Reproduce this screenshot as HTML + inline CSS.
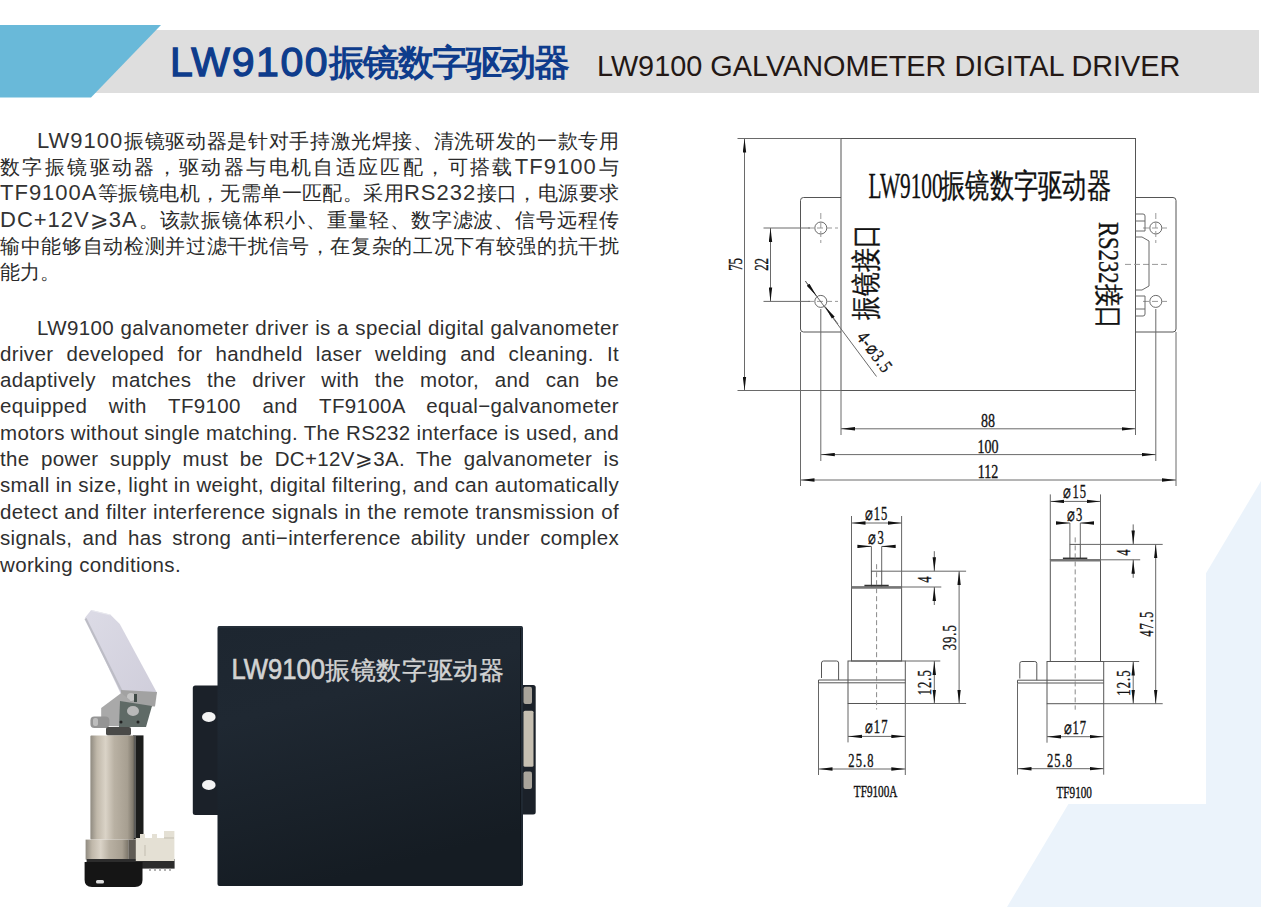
<!DOCTYPE html>
<html><head><meta charset="utf-8">
<style>
*{margin:0;padding:0;box-sizing:border-box}
html,body{width:1261px;height:907px;overflow:hidden;background:#fff}
body{position:relative;font-family:"Liberation Sans",sans-serif;color:#231815}
.abs{position:absolute}
#bg{position:absolute;left:0;top:0}
.ln{position:absolute;left:0;width:619px;white-space:nowrap;text-align:justify;text-align-last:justify;font-size:20px;line-height:26px;height:26px}
.zh .ln{font-size:20px;color:#2a2a2a}
.en .ln{color:#2f2f2f}
.en .ln{letter-spacing:0.35px;font-size:20.5px}
.lt{letter-spacing:1px;font-size:22px;color:#333}
.nj{text-align-last:left}
.t1{position:absolute;left:170px;top:38px;font-size:41px;color:#0e3c8c;white-space:nowrap;line-height:48px}
.t1l{-webkit-text-stroke:1.3px #0e3c8c;letter-spacing:1.6px}
.t1c{font-size:36px;letter-spacing:-1.8px;position:relative;top:-1px}
.t2{position:absolute;left:597px;top:46px;font-size:28.85px;color:#231815;white-space:nowrap;line-height:40px}
</style></head><body>
<svg id="bg" width="1261" height="907" viewBox="0 0 1261 907">
  <polygon points="1261,481 1261,907 1007,907" fill="#ebf3fb"/>
  <rect x="700" y="110" width="506" height="694" fill="#fff"/>
  <rect x="60" y="30" width="1199" height="63" fill="#dedede"/>
  <polygon points="0,25 161,25 91,97.5 0,97.5" fill="#69b9d9"/>
</svg>
<div class="t1"><span class="t1l">LW9100</span><b class="t1c">振镜数字驱动器</b></div>
<div class="t2">LW9100 GALVANOMETER DIGITAL DRIVER</div>

<div class="zh">
<div class="ln" style="top:128px;padding-left:37px"><span class="lt">LW9100</span>振镜驱动器是针对手持激光焊接、清洗研发的一款专用</div>
<div class="ln" style="top:154px">数字振镜驱动器，驱动器与电机自适应匹配，可搭载<span class="lt">TF9100</span>与</div>
<div class="ln" style="top:180px"><span class="lt">TF9100A</span>等振镜电机，无需单一匹配。采用<span class="lt">RS232</span>接口，电源要求</div>
<div class="ln" style="top:207px"><span class="lt">DC+12V⩾3A</span>。该款振镜体积小、重量轻、数字滤波、信号远程传</div>
<div class="ln" style="top:233px">输中能够自动检测并过滤干扰信号，在复杂的工况下有较强的抗干扰</div>
<div class="ln nj" style="top:259px">能力。</div>
</div>

<div class="en">
<div class="ln" style="top:315px;padding-left:37px">LW9100 galvanometer driver is a special digital galvanometer</div>
<div class="ln" style="top:341px">driver developed for handheld laser welding and cleaning. It</div>
<div class="ln" style="top:367px">adaptively matches the driver with the motor, and can be</div>
<div class="ln" style="top:393px">equipped with TF9100 and TF9100A equal−galvanometer</div>
<div class="ln" style="top:420px">motors without single matching. The RS232 interface is used, and</div>
<div class="ln" style="top:446px">the power supply must be DC+12V⩾3A. The galvanometer is</div>
<div class="ln" style="top:472px">small in size, light in weight, digital filtering, and can automatically</div>
<div class="ln" style="top:499px">detect and filter interference signals in the remote transmission of</div>
<div class="ln" style="top:525px">signals, and has strong anti−interference ability under complex</div>
<div class="ln nj" style="top:552px">working conditions.</div>
</div>

<!--PARTS-->
<svg class="abs" style="left:0;top:0" width="1261" height="907" viewBox="0 0 1261 907">
<defs>
  <marker id="ar" viewBox="0 0 14 4" refX="14" refY="2" markerWidth="14" markerHeight="4" markerUnits="userSpaceOnUse" orient="auto-start-reverse">
    <path d="M14,2 L0,0.3 L0,3.7 Z" fill="#111"/>
  </marker>
</defs>
<g fill="none" stroke="#6a6a6a" stroke-width="1">
  <!-- main box -->
  <rect x="841" y="138.5" width="294.5" height="252" stroke="#555"/>
  <path d="M841,197.5 H803.5 Q800.5,197.5 800.5,200.5 V329 Q800.5,332 803.5,332 H841" stroke="#555"/>
  <path d="M1135.5,197.5 H1173 Q1176,197.5 1176,200.5 V329 Q1176,332 1173,332 H1135.5" stroke="#555"/>
  <circle cx="820.8" cy="228" r="6"/>
  <circle cx="820.8" cy="301.4" r="6"/>
  <circle cx="1155.8" cy="228" r="6"/>
  <circle cx="1155.8" cy="301.4" r="6"/>
  <!-- centre lines -->
  <g stroke="#999" stroke-dasharray="6,3">
    <path d="M808,228 H838 M820.8,213 V243 M808,301.4 H838 M1143,228 H1170 M1155.8,213 V243 M1143,301.4 H1170 M1125,264.4 H1168"/>
  </g>
  <!-- extension lines -->
  <path d="M737.5,138.5 H841 M737.5,390.5 H841 M763.5,228 H810 M763.5,301.4 H810"/>
  <path d="M841,390.5 V435 M1135.5,390.5 V435 M820.8,309 V461 M1155.8,309 V461 M800.5,332 V486 M1176,332 V486"/>
  <!-- dims -->
  <path d="M744.5,138.5 V390.5" marker-start="url(#ar)" marker-end="url(#ar)"/>
  <path d="M770.5,228 V301.4" marker-start="url(#ar)" marker-end="url(#ar)"/>
  <path d="M841,428.8 H1135.5" marker-start="url(#ar)" marker-end="url(#ar)"/>
  <path d="M820.8,454.6 H1155.8" marker-start="url(#ar)" marker-end="url(#ar)"/>
  <path d="M800.5,480 H1176" marker-start="url(#ar)" marker-end="url(#ar)"/>
  <path d="M805.3,281 L876.5,376.5"/>
  <path d="M805.3,281 L816.5,296" marker-end="url(#ar)"/>
  <path d="M838,324 L825,306.5" marker-end="url(#ar)"/>
  <!-- connector -->
  <path d="M1135.5,214 H1143 Q1145,214 1145,216 V231 H1135.5 M1135.5,296 H1145 V314 Q1145,316 1143,316 H1135.5 M1135.5,237 H1142 L1149,241 V286 L1142,290 H1135.5 M1135.5,221 H1145 M1135.5,309 H1145"/>
</g>
<g font-family="Liberation Serif, serif" fill="#111" stroke="#111" stroke-width="0.35">
  <text transform="translate(868.5,198) scale(0.6,1)" font-size="35.5">LW9100</text><text transform="translate(941,197) scale(0.735,1)" font-size="32.5">振镜数字驱动器</text>
  <text transform="translate(876,320) rotate(-90) scale(0.8,1)" font-size="29.5">振镜接口</text>
  <text transform="translate(1099,222) rotate(90) scale(0.78,1)" font-size="29">RS232接口</text>
  <g font-size="19" text-anchor="middle">
    <text transform="translate(988,427) scale(0.74,1)">88</text>
    <text transform="translate(988,452.5) scale(0.74,1)">100</text>
    <text transform="translate(988,478) scale(0.74,1)">112</text>
    <text transform="translate(742,264.4) rotate(-90) scale(0.68,1)">75</text>
    <text transform="translate(768,264.4) rotate(-90) scale(0.68,1)">22</text>
    <text transform="translate(870,356) rotate(53) scale(0.78,1)" font-size="19" letter-spacing="1.5">4-⌀3.5</text>
  </g>
</g>
</svg>
<svg class="abs" style="left:0;top:0" width="1261" height="907" viewBox="0 0 1261 907">
<g fill="none" stroke="#666" stroke-width="1">
<rect x="871.4" y="571.2" width="10.300000000000068" height="15.799999999999955" stroke="#555"/>
<rect x="851.5" y="587" width="50.10000000000002" height="74" stroke="#555"/>
<path d="M851.5,587.5 H901.6" stroke="#777" stroke-width="2.5"/>
<path d="M864.4,585.5 H888.7" stroke="#333" stroke-width="1.5"/>
<rect x="848" y="661" width="57.299999999999955" height="42.5" stroke="#555"/>
<path d="M821.5,678 V663 Q821.5,661 823.5,661 H836.6 Q838.6,661 838.6,663 V680" stroke="#555"/>
<path d="M818.5,680 H905.3 M818.5,682.8 H905.3 M818.5,680 V683" stroke="#555"/>
<path d="M876.6,564.2 V709.5" stroke="#888" stroke-dasharray="5,3"/>
<path d="M851.5,516 V587 M901.6,516 V587 M871.4,546.4 V571.2 M881.7,546.4 V571.2"/>
<path d="M881.7,571.2 H966.1 M901.6,587 H941.3 M905.3,661 H940.3 M905.3,703.5 H966.1"/>
<path d="M848,703.5 V742.4 M905.3,703.5 V775 M818.5,683 V775"/>
<path d="M851.5,523 H901.6" marker-start="url(#ar)" marker-end="url(#ar)"/>
<path d="M858.4,546.4 H871.4" marker-end="url(#ar)"/>
<path d="M894.7,546.4 H881.7" marker-end="url(#ar)"/>
<path d="M934.3,551.2 V571.2" marker-end="url(#ar)"/>
<path d="M934.3,605 V587" marker-end="url(#ar)"/>
<path d="M959.1,571.2 V703.5" marker-start="url(#ar)" marker-end="url(#ar)"/>
<path d="M934.3,661 V703.5" marker-start="url(#ar)" marker-end="url(#ar)"/>
<path d="M848,736.4 H905.3" marker-start="url(#ar)" marker-end="url(#ar)"/>
<path d="M818.5,769 H905.3" marker-start="url(#ar)" marker-end="url(#ar)"/>
</g>
<g font-family="Liberation Serif, serif" fill="#111" stroke="#111" stroke-width="0.35" font-size="18.5" text-anchor="middle" letter-spacing="1.5">
<text transform="translate(876.6,520) scale(0.68,1)">⌀15</text>
<text transform="translate(876.6,544.4) scale(0.68,1)">⌀3</text>
<text transform="translate(931.3,579.1) rotate(-90) scale(0.68,1)">4</text>
<text transform="translate(931.3,682.25) rotate(-90) scale(0.68,1)">12.5</text>
<text transform="translate(956.1,637.3) rotate(-90) scale(0.68,1)">39.5</text>
<text transform="translate(876.65,733.4) scale(0.68,1)">⌀17</text>
<text transform="translate(861.4,767) scale(0.68,1)">25.8</text>
<text transform="translate(875.6,797) scale(0.7,1)" font-size="16" font-weight="normal" stroke-width="0.4" letter-spacing="0">TF9100A</text>
</g>
<g fill="none" stroke="#666" stroke-width="1">
<rect x="1069.9" y="544.4" width="10.399999999999864" height="15.399999999999977" stroke="#555"/>
<rect x="1050.3" y="559.8" width="50.200000000000045" height="101.70000000000005" stroke="#555"/>
<path d="M1050.3,560.3 H1100.5" stroke="#777" stroke-width="2.5"/>
<path d="M1062.9,558.3 H1087.3" stroke="#333" stroke-width="1.5"/>
<rect x="1047" y="661.5" width="56.700000000000045" height="42.200000000000045" stroke="#555"/>
<path d="M1019.8,678.5 V663.5 Q1019.8,661.5 1021.8,661.5 H1034.8 Q1036.8,661.5 1036.8,663.5 V680.2" stroke="#555"/>
<path d="M1017.5,680.2 H1103.7 M1017.5,683.0 H1103.7 M1017.5,680.2 V683.2" stroke="#555"/>
<path d="M1075.2,537.4 V709.7" stroke="#888" stroke-dasharray="5,3"/>
<path d="M1050.3,494.4 V559.8 M1100.5,494.4 V559.8 M1069.9,523 V544.4 M1080.3,523 V544.4"/>
<path d="M1080.3,544.4 H1162.7 M1100.5,559.8 H1140.2 M1103.7,661.5 H1139.2 M1103.7,703.7 H1162.7"/>
<path d="M1047,703.7 V742.7 M1103.7,703.7 V774.7 M1017.5,683.2 V774.7"/>
<path d="M1050.3,501.4 H1100.5" marker-start="url(#ar)" marker-end="url(#ar)"/>
<path d="M1056.9,523 H1069.9" marker-end="url(#ar)"/>
<path d="M1093.3,523 H1080.3" marker-end="url(#ar)"/>
<path d="M1133.2,524.4 V544.4" marker-end="url(#ar)"/>
<path d="M1133.2,577.8 V559.8" marker-end="url(#ar)"/>
<path d="M1155.7,544.4 V703.7" marker-start="url(#ar)" marker-end="url(#ar)"/>
<path d="M1133.2,661.5 V703.7" marker-start="url(#ar)" marker-end="url(#ar)"/>
<path d="M1047,736.7 H1103.7" marker-start="url(#ar)" marker-end="url(#ar)"/>
<path d="M1017.5,768.7 H1103.7" marker-start="url(#ar)" marker-end="url(#ar)"/>
</g>
<g font-family="Liberation Serif, serif" fill="#111" stroke="#111" stroke-width="0.35" font-size="18.5" text-anchor="middle" letter-spacing="1.5">
<text transform="translate(1075.2,498.4) scale(0.68,1)">⌀15</text>
<text transform="translate(1075.2,521) scale(0.68,1)">⌀3</text>
<text transform="translate(1130.2,552.0999999999999) rotate(-90) scale(0.68,1)">4</text>
<text transform="translate(1130.2,682.6) rotate(-90) scale(0.68,1)">12.5</text>
<text transform="translate(1152.7,623.8) rotate(-90) scale(0.68,1)">47.5</text>
<text transform="translate(1075.35,733.7) scale(0.68,1)">⌀17</text>
<text transform="translate(1060.1,766.7) scale(0.68,1)">25.8</text>
<text transform="translate(1074.2,797.8) scale(0.7,1)" font-size="16" font-weight="normal" stroke-width="0.4" letter-spacing="0">TF9100</text>
</g>
</svg>
<svg class="abs" style="left:0;top:0" width="1261" height="907" viewBox="0 0 1261 907">
<defs>
  <linearGradient id="boxg" x1="0" y1="0" x2="0.3" y2="1">
    <stop offset="0" stop-color="#1d2630"/>
    <stop offset="0.35" stop-color="#1f2832"/>
    <stop offset="1" stop-color="#151c23"/>
  </linearGradient>
  <linearGradient id="cyl" x1="0" y1="0" x2="1" y2="0">
    <stop offset="0" stop-color="#8f8a80"/>
    <stop offset="0.15" stop-color="#c0b8aa"/>
    <stop offset="0.35" stop-color="#dad3c7"/>
    <stop offset="0.55" stop-color="#b9b1a3"/>
    <stop offset="0.85" stop-color="#a79f91"/>
    <stop offset="1" stop-color="#7a7468"/>
  </linearGradient>
  <linearGradient id="mir" x1="0" y1="0" x2="1" y2="1">
    <stop offset="0" stop-color="#dcdbe6"/>
    <stop offset="1" stop-color="#cfcdda"/>
  </linearGradient>
</defs>
<!-- driver box -->
<rect x="192.8" y="685.5" width="30" height="129.5" rx="2.5" fill="#1b2129"/>
<ellipse cx="208.8" cy="717" rx="6.8" ry="5" fill="#f4f4f4"/>
<ellipse cx="208.8" cy="785" rx="6.8" ry="5" fill="#f4f4f4"/>
<rect x="515" y="685" width="20.7" height="129.5" rx="2.5" fill="#1b2129"/>
<rect x="523.5" y="686.7" width="8.5" height="17.3" rx="2" fill="#a9a49b"/>
<rect x="523.5" y="710.7" width="10" height="56" rx="1.5" fill="#c6bfb1"/>
<rect x="523.5" y="771.4" width="8.5" height="17.6" rx="2" fill="#a9a49b"/>
<rect x="217.5" y="626" width="305.5" height="260" rx="2" fill="url(#boxg)"/>
<path d="M218.5,627 H522" stroke="#2c3640" stroke-width="1.2"/>
<path d="M520.5,628 V885" stroke="#10151b" stroke-width="1"/>
<path d="M522,628 V885" stroke="#2b3540" stroke-width="1"/>
<text transform="translate(231.5,678.7) scale(0.855,1)" font-family="Liberation Sans, sans-serif" font-size="30" fill="#d2d3d3" stroke="#d2d3d3" stroke-width="0.7">LW9100</text><text x="325" y="679" letter-spacing="0.7" font-family="Liberation Sans, sans-serif" font-size="25.4" fill="#d2d3d3" stroke="#d2d3d3" stroke-width="0.4">振镜数字驱动器</text>
<!-- galvo -->
<polygon points="85,617.7 91.2,610 110.5,614.7 119.8,624 156.8,692.6 153,705 121.3,695" fill="url(#mir)"/>
<path d="M85.5,618.5 L122,692" stroke="#bdbdc6" stroke-width="2.2"/>
<path d="M91.5,610.5 L110.5,615" stroke="#e9e9ef" stroke-width="1.2"/>
<path d="M121,690 L157,692 L155,706.5 L121,705 Z" fill="#a2a2a2"/>
<circle cx="131" cy="697" r="4" fill="#c4c4c4"/>
<rect x="134" y="694" width="3" height="8" fill="#3f4a46"/>
<path d="M101.2,708 L121.3,693 L130,700 L132,726.5 L101.2,726 Z" fill="#a9a9a9"/>
<path d="M120,701 L152,706 L146,727 L119,727 Z" fill="#5f6a66"/>
<ellipse cx="133" cy="711" rx="6" ry="5" fill="#b9b9b9"/>
<circle cx="121" cy="722" r="1.5" fill="#222"/><circle cx="138" cy="722" r="1.5" fill="#222"/>
<rect x="90.4" y="716.5" width="19" height="11.5" rx="4" fill="#949494"/>
<rect x="93" y="718" width="5" height="8" rx="2" fill="#bcbcbc"/>
<rect x="106" y="727" width="25" height="8.5" rx="2" fill="#4a4a48"/>
<rect x="133" y="735.4" width="10.5" height="104" fill="#1c1d1c"/>
<rect x="134.2" y="736" width="1.6" height="102" fill="#6d6d6a"/>
<rect x="90.4" y="735.4" width="43.5" height="104.2" rx="1" fill="url(#cyl)"/>
<rect x="85.6" y="839.6" width="43" height="20" fill="url(#cyl)"/>
<rect x="128.5" y="839.6" width="8" height="20" fill="#5f5b54"/>
<rect x="86.6" y="859" width="88" height="9.6" fill="#2c2c2c"/>
<path d="M150,868.6 V871 M155,868.6 V871 M160,868.6 V871 M165,868.6 V871 M170,868.6 V871" stroke="#999" stroke-width="1.5"/>
<path d="M84.6,862 H142.5 V880 Q142.5,887 135,887 H92 Q84.6,887 84.6,880 Z" fill="#151515"/>
<rect x="96" y="880" width="8" height="3.5" rx="1.5" fill="#ddd"/>
<path d="M135.8,861 V838 H140 V834 H145 V838 H152 V834 H157 V838 H164 V831 H174.4 V861 Z" fill="#e4e0d4"/>
<path d="M145,845 V856 M164,838 H174" fill="none" stroke="#c2bdb0" stroke-width="1"/>
</svg>

</body></html>
